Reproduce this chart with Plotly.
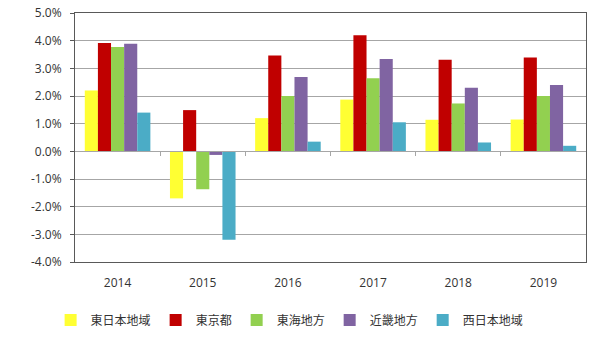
import plotly.graph_objects as go

years = ["2014", "2015", "2016", "2017", "2018", "2019"]
series_names = ["東日本地域", "東京都", "東海地方", "近畿地方", "西日本地域"]
east_japan = [2.2, -1.7, 1.2, 1.87, 1.14, 1.15]
tokyo = [3.92, 1.49, 3.46, 4.2, 3.31, 3.39]
tokai = [3.77, -1.37, 2.0, 2.64, 1.73, 2.0]
kinki = [3.89, -0.13, 2.69, 3.34, 2.3, 2.4]
west_japan = [1.4, -3.2, 0.35, 1.05, 0.32, 0.2]
colors = ["#FFFF33", "#C00000", "#92D050", "#8064A2", "#4BACC6"]
y_ticks = [-4, -3, -2, -1, 0, 1, 2, 3, 4, 5]

all_values = [east_japan, tokyo, tokai, kinki, west_japan]
x_idx = list(range(len(years)))

fig = go.Figure()
for name, vals, col in zip(series_names, all_values, colors):
    fig.add_trace(go.Bar(x=x_idx, y=vals, name=name, marker_color=col,
                         marker_line_width=0))

# invisible trace to hold the bottom category labels axis
fig.add_trace(go.Scatter(x=x_idx, y=[None] * len(years), xaxis="x2",
                         showlegend=False, hoverinfo="skip"))

FONT = "Open Sans, Liberation Sans, Noto Sans CJK JP, sans-serif"
fig.update_layout(
    width=600, height=341,
    margin=dict(l=75, r=14, t=13, b=79, autoexpand=False),
    paper_bgcolor="white", plot_bgcolor="white",
    barmode="group", bargap=0.23, bargroupgap=0,
    font=dict(family=FONT, size=12, color="#333333"),
    showlegend=True,
    legend=dict(orientation="h", x=0.42, xanchor="center", y=-0.233, yanchor="middle",
                font=dict(size=12, family="Noto Sans CJK JP", color="#333333"),
                itemwidth=30, traceorder="normal"),
    xaxis=dict(range=[-0.5, 5.5], anchor="free", position=4 / 9,
               showticklabels=False, showgrid=False, zeroline=False,
               showline=True, linecolor="#a6a6a6", linewidth=1,
               ticks="outside", ticklen=4, tickcolor="#a6a6a6",
               tickvals=[i + 0.5 for i in x_idx[:-1]], automargin=False),
    xaxis2=dict(range=[-0.5, 5.5], overlaying="x", anchor="y", side="bottom",
                tickvals=x_idx, ticktext=years, showgrid=False, zeroline=False,
                showline=True, mirror=True, linecolor="#595959", linewidth=1,
                ticks="", ticklabelstandoff=10, automargin=False,
                tickfont=dict(size=12, color="#333333")),
    yaxis=dict(range=[-4, 5], tickvals=y_ticks,
               ticktext=[f"{v:.1f}%" for v in y_ticks],
               showgrid=True, gridcolor="#a6a6a6", gridwidth=1,
               zeroline=False, showline=True, mirror=True,
               linecolor="#595959", linewidth=1,
               ticks="outside", ticklen=4, tickcolor="#595959",
               ticklabelstandoff=6, automargin=False,
               tickfont=dict(size=12, color="#333333")),
)

fig.write_html("out.html")
